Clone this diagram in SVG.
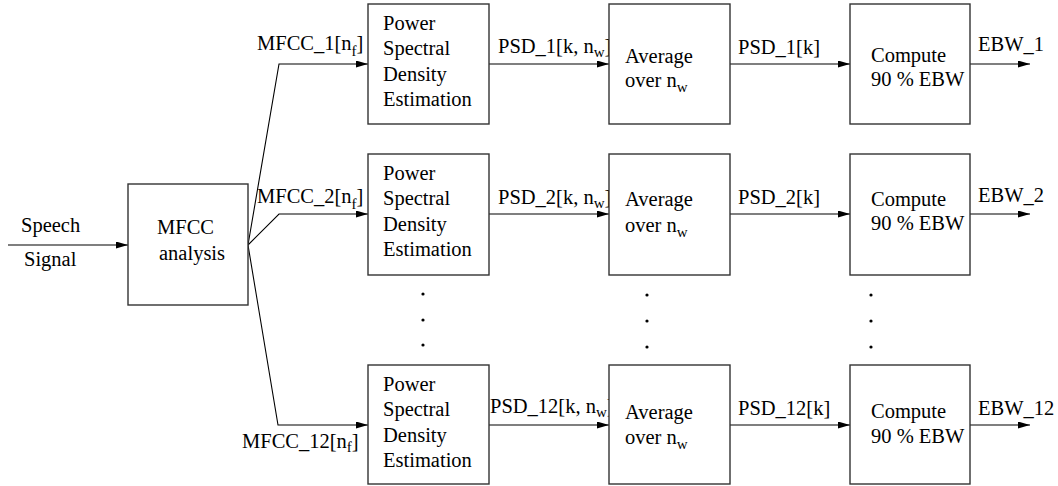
<svg xmlns="http://www.w3.org/2000/svg" width="1058" height="486" viewBox="0 0 1058 486">
<style>
.box{fill:#fff;stroke:#333;stroke-width:1.4}
.t{font-family:"Liberation Serif","Times New Roman",serif;font-size:20.5px;fill:#000}
.sub{font-size:15px}
.c{fill:none;stroke:#000;stroke-width:1.1;marker-end:url(#ah)}
</style>
<defs>
<marker id="ah" markerWidth="13" markerHeight="8" refX="12" refY="3.5" orient="auto" markerUnits="userSpaceOnUse">
<path d="M0,0 L12,3.5 L0,7 z" fill="#000"/>
</marker>
</defs>
<rect width="1058" height="486" fill="#fff"/>
<g id="connectors">
<path class="c" d="M8,245 H128"/>
<path class="c" d="M248,245 L279,64 H368"/>
<path class="c" d="M248,245 L279,214 H368"/>
<path class="c" d="M248,245 L278,425 H368"/>
<path class="c" d="M489,64 H609"/>
<path class="c" d="M730,64 H850"/>
<path class="c" d="M970,64 H1030"/>
<path class="c" d="M489,214 H609"/>
<path class="c" d="M730,214 H850"/>
<path class="c" d="M970,214 H1030"/>
<path class="c" d="M489,425 H609"/>
<path class="c" d="M730,425 H850"/>
<path class="c" d="M970,425 H1030"/>
</g>
<g id="labels">
<text class="t" x="21" y="232">Speech</text>
<text class="t" x="24" y="266">Signal</text>
<text class="t" x="257" y="50">MFCC_1[n<tspan class="sub" dy="6">f</tspan><tspan dy="-6">]</tspan></text>
<text class="t" x="257" y="203">MFCC_2[n<tspan class="sub" dy="6">f</tspan><tspan dy="-6">]</tspan></text>
<text class="t" x="242" y="448">MFCC_12[n<tspan class="sub" dy="4">f</tspan><tspan dy="-4">]</tspan></text>
<text class="t" x="498" y="53">PSD_1[k, n<tspan class="sub" dy="4">w</tspan><tspan dy="-4">]</tspan></text>
<text class="t" x="498" y="204">PSD_2[k, n<tspan class="sub" dy="4">w</tspan><tspan dy="-4">]</tspan></text>
<text class="t" x="490" y="413">PSD_12[k, n<tspan class="sub" dy="4">w</tspan><tspan dy="-4">]</tspan></text>
<text class="t" x="738" y="54">PSD_1[k]</text>
<text class="t" x="738" y="204">PSD_2[k]</text>
<text class="t" x="738" y="415">PSD_12[k]</text>
<text class="t" x="978" y="51">EBW_1</text>
<text class="t" x="978" y="202">EBW_2</text>
<text class="t" x="978" y="415">EBW_12</text>
</g>
<g id="mfcc">
<rect class="box" x="128" y="184" width="120" height="121"/>
<text class="t" x="157" y="234">MFCC</text>
<text class="t" x="159" y="260">analysis</text>
</g>
<g id="psd1">
<rect class="box" x="368" y="4" width="121" height="120"/>
<text class="t" x="383" y="30">Power</text>
<text class="t" x="383" y="55">Spectral</text>
<text class="t" x="383" y="81">Density</text>
<text class="t" x="383" y="106">Estimation</text>
</g>
<g id="psd2">
<rect class="box" x="368" y="154" width="121" height="121"/>
<text class="t" x="383" y="180">Power</text>
<text class="t" x="383" y="205">Spectral</text>
<text class="t" x="383" y="231">Density</text>
<text class="t" x="383" y="256">Estimation</text>
</g>
<g id="psd12">
<rect class="box" x="368" y="365" width="121" height="119"/>
<text class="t" x="383" y="391">Power</text>
<text class="t" x="383" y="416">Spectral</text>
<text class="t" x="383" y="442">Density</text>
<text class="t" x="383" y="467">Estimation</text>
</g>
<g id="avg1">
<rect class="box" x="609" y="4" width="121" height="120"/>
<text class="t" x="625" y="63">Average</text>
<text class="t" x="625" y="87">over n<tspan class="sub" dy="5">w</tspan></text>
</g>
<g id="avg2">
<rect class="box" x="609" y="154" width="121" height="121"/>
<text class="t" x="625" y="206">Average</text>
<text class="t" x="625" y="232">over n<tspan class="sub" dy="5">w</tspan></text>
</g>
<g id="avg12">
<rect class="box" x="609" y="365" width="121" height="119"/>
<text class="t" x="625" y="419">Average</text>
<text class="t" x="625" y="444">over n<tspan class="sub" dy="5">w</tspan></text>
</g>
<g id="ebw1">
<rect class="box" x="850" y="4" width="120" height="120"/>
<text class="t" x="871" y="62">Compute</text>
<text class="t" x="871" y="86">90 % EBW</text>
</g>
<g id="ebw2">
<rect class="box" x="850" y="154" width="120" height="121"/>
<text class="t" x="871" y="206">Compute</text>
<text class="t" x="871" y="230">90 % EBW</text>
</g>
<g id="ebw12">
<rect class="box" x="850" y="365" width="120" height="119"/>
<text class="t" x="871" y="418">Compute</text>
<text class="t" x="871" y="443">90 % EBW</text>
</g>
<g id="ellipses" fill="#000">
<circle cx="423" cy="294" r="1.6"/><circle cx="423" cy="320" r="1.6"/><circle cx="423" cy="345" r="1.6"/>
<circle cx="647" cy="295" r="1.6"/><circle cx="647" cy="321" r="1.6"/><circle cx="647" cy="347" r="1.6"/>
<circle cx="871" cy="295" r="1.6"/><circle cx="871" cy="321" r="1.6"/><circle cx="871" cy="347" r="1.6"/>
</g>
</svg>
